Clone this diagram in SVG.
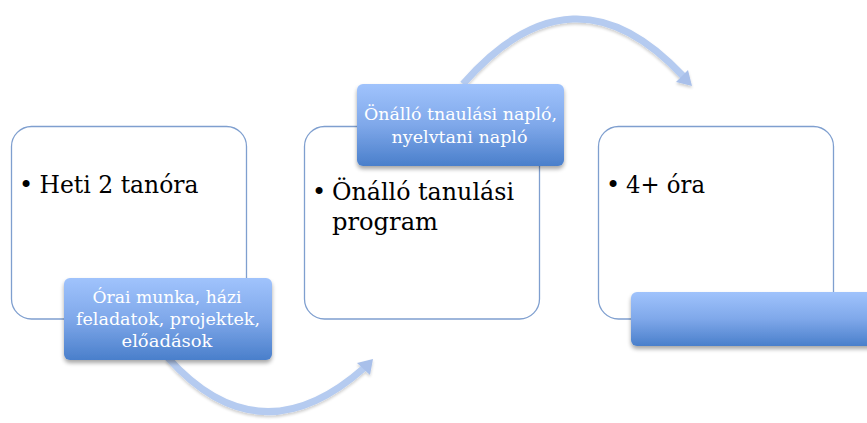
<svg xmlns="http://www.w3.org/2000/svg" width="867" height="423" viewBox="0 0 867 423">
<defs>
<linearGradient id="sub" x1="0" y1="0" x2="0" y2="1">
<stop offset="0" stop-color="#a0c3fc"/>
<stop offset="0.5" stop-color="#7fa8ea"/>
<stop offset="1" stop-color="#4a7fcb"/>
</linearGradient>
<filter id="sh" x="-10%" y="-10%" width="120%" height="140%">
<feGaussianBlur in="SourceAlpha" stdDeviation="2"/>
<feOffset dy="3" result="b"/>
<feComponentTransfer><feFuncA type="linear" slope="0.35"/></feComponentTransfer>
<feMerge><feMergeNode/><feMergeNode in="SourceGraphic"/></feMerge>
</filter>
<filter id="ash" x="-10%" y="-10%" width="120%" height="130%">
<feGaussianBlur in="SourceAlpha" stdDeviation="1.5"/>
<feOffset dy="2"/>
<feComponentTransfer><feFuncA type="linear" slope="0.2"/></feComponentTransfer>
<feMerge><feMergeNode/><feMergeNode in="SourceGraphic"/></feMerge>
</filter>
</defs>
<style>
.box{fill:#fff;stroke:#7f9fcf;stroke-width:1.3}
.main{font-family:"DejaVu Serif","Liberation Serif",serif;font-size:24px;fill:#000}
.subt{font-family:"DejaVu Serif","Liberation Serif",serif;font-size:16px;fill:#fff;text-anchor:middle}
.arc{fill:none;stroke:#b5cbf0;stroke-width:7}
.head{fill:#a9c0ea}
</style>
<g id="connectors" filter="url(#ash)">
<path class="arc" d="M463,84 Q573,-42 683,76"/>
<polygon class="head" points="676,82 692,86 688,70"/>
<path class="arc" d="M168,358 Q260,460 364,368"/>
<polygon class="head" points="357,363 373,359 370,375"/>
</g>
<g id="node1">
<rect class="box" x="11.5" y="126.5" width="235" height="192.5" rx="20"/>
<text class="main" x="19" y="193">•</text>
<text class="main" x="39.5" y="193" textLength="159" lengthAdjust="spacingAndGlyphs">Heti 2 tanóra</text>
</g>
<g id="node2">
<rect class="box" x="304.5" y="126.5" width="235" height="192.5" rx="20"/>
<text class="main" x="312" y="200">•</text>
<text class="main" x="332" y="200" textLength="182" lengthAdjust="spacingAndGlyphs">Önálló tanulási</text>
<text class="main" x="332" y="230" textLength="106" lengthAdjust="spacingAndGlyphs">program</text>
</g>
<g id="node3">
<rect class="box" x="598.5" y="126.5" width="235" height="192.5" rx="20"/>
<text class="main" x="606" y="193">•</text>
<text class="main" x="626" y="193" textLength="79" lengthAdjust="spacingAndGlyphs">4+ óra</text>
</g>
<g id="sub1">
<rect x="64" y="278" width="208" height="82" rx="6" fill="url(#sub)" filter="url(#sh)"/>
<text class="subt" x="167" y="303" textLength="149" lengthAdjust="spacingAndGlyphs">Órai munka, házi</text>
<text class="subt" x="168" y="325" textLength="184" lengthAdjust="spacingAndGlyphs">feladatok, projektek,</text>
<text class="subt" x="167" y="347" textLength="91" lengthAdjust="spacingAndGlyphs">előadások</text>
</g>
<g id="sub2">
<rect x="357" y="84" width="207" height="82" rx="6" fill="url(#sub)" filter="url(#sh)"/>
<text class="subt" x="460.5" y="120" textLength="193" lengthAdjust="spacingAndGlyphs">Önálló tnaulási napló,</text>
<text class="subt" x="459.5" y="143" textLength="136" lengthAdjust="spacingAndGlyphs">nyelvtani napló</text>
</g>
<g id="sub3">
<rect x="631" y="292" width="250" height="54" rx="6" fill="url(#sub)" filter="url(#sh)"/>
</g>
</svg>
